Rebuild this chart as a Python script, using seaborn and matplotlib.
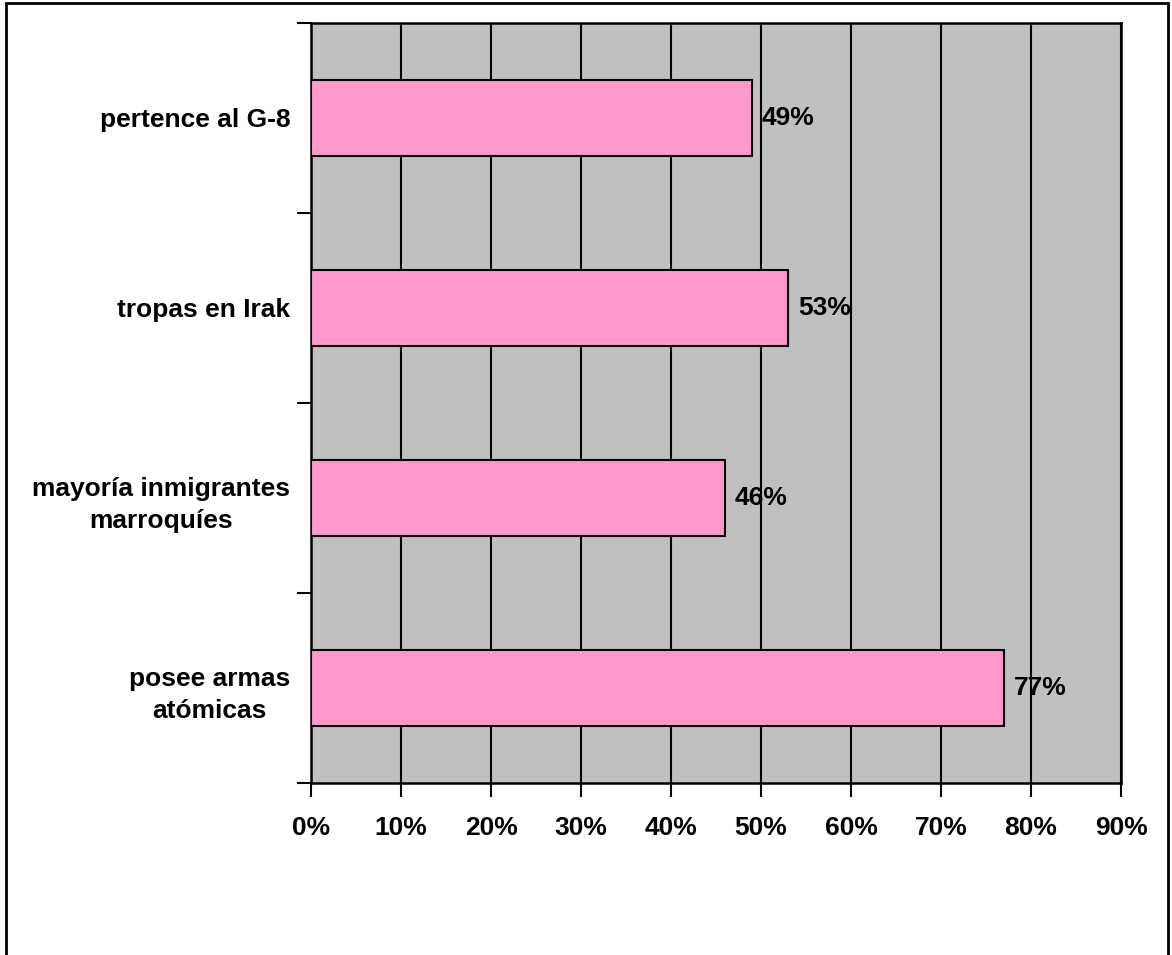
import matplotlib

matplotlib.use("Agg")

import matplotlib.pyplot as plt
import seaborn as sns
from matplotlib.patches import Rectangle

# Datos (de arriba hacia abajo)
CATEGORIAS = [
    "pertence al G-8",
    "tropas en Irak",
    "mayoría inmigrantes\nmarroquíes",
    "posee armas\natómicas",
]
VALORES = [49, 53, 46, 77]
TICKS_X = [0, 10, 20, 30, 40, 50, 60, 70, 80, 90]

COR_BARRA = "#FF99CC"
COR_FONDO = "#C0C0C0"

sns.set_style("white")
plt.rcParams["font.family"] = ["Liberation Sans", "DejaVu Sans"]
plt.rcParams["font.weight"] = "bold"
plt.rcParams["font.size"] = 19
plt.rcParams["text.color"] = "black"
plt.rcParams["xtick.color"] = "black"
plt.rcParams["ytick.color"] = "black"
plt.rcParams["xtick.labelcolor"] = "black"
plt.rcParams["ytick.labelcolor"] = "black"

fig = plt.figure(figsize=(11.72, 9.55), dpi=100)
ax = fig.add_axes([311 / 1172, 1 - 783 / 955, 810 / 1172, 760 / 955])
ax.set_facecolor(COR_FONDO)

sns.barplot(
    x=VALORES,
    y=CATEGORIAS,
    orient="h",
    color=COR_BARRA,
    saturation=1,
    width=0.4,
    edgecolor="black",
    linewidth=1.5,
    ax=ax,
    zorder=3,
)

# Etiquetas de valor
for i, v in enumerate(VALORES):
    ax.text(v + 1.1, i, f"{v}%", va="center", ha="left", color="black",
            fontsize=19, fontweight="bold", zorder=4)

ax.set_xlim(0, 90)
ax.set_ylim(len(CATEGORIAS) - 0.5, -0.5)
ax.set_xticks(TICKS_X)
ax.set_xticklabels([f"{t}%" for t in TICKS_X], fontweight="bold",
                   color="black")

# Ticks del eje Y en los límites entre categorías, etiquetas en el centro
ax.set_yticks([i - 0.5 for i in range(len(CATEGORIAS) + 1)])
ax.set_yticklabels([])
ax.set_yticks(range(len(CATEGORIAS)), minor=True)
ax.set_yticklabels(CATEGORIAS, minor=True, fontweight="bold", color="black",
                   multialignment="center", linespacing=1.45)
ax.tick_params(axis="y", which="major", length=10, width=1.5,
               direction="out", left=True, color="black")
ax.tick_params(axis="y", which="minor", length=0, pad=15)
ax.tick_params(axis="x", which="major", length=10, width=1.5,
               direction="out", bottom=True, color="black", pad=13.5)

ax.set_xlabel("")
ax.set_ylabel("")
ax.xaxis.grid(True, color="black", linewidth=1.5, zorder=1)
ax.yaxis.grid(False)
ax.set_axisbelow(True)
for s in ax.spines.values():
    s.set_visible(True)
    s.set_color("black")
    s.set_linewidth(1.8)

# Marco exterior del gráfico
fig.patches.append(Rectangle(
    (6 / 1172, -0.02), 1162 / 1172, 1 - 3 / 955 + 0.02,
    transform=fig.transFigure, fill=False, edgecolor="black",
    linewidth=2, clip_on=False,
))

fig.savefig("out.png", dpi=100)
plt.close(fig)
